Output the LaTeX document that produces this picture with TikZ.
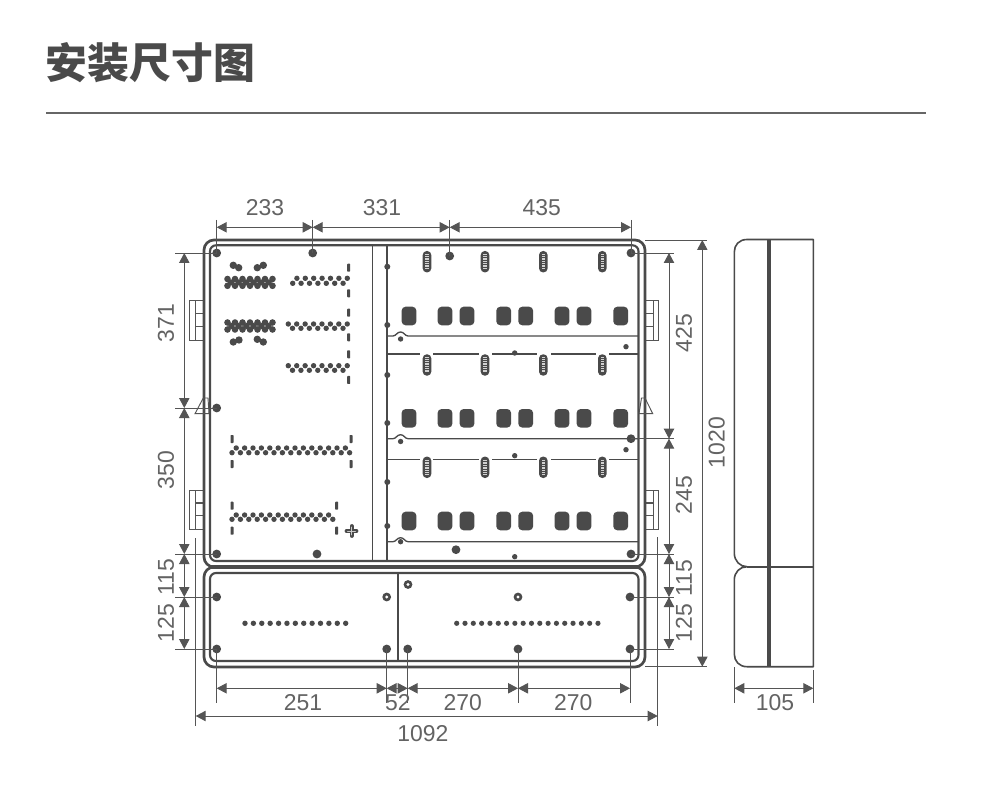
\documentclass[tikz,border=0pt]{standalone}
\usepackage{fontspec}
\setmainfont{Liberation Sans}
\newfontfamily\cjk{Noto Sans CJK SC}
\usetikzlibrary{arrows.meta}
\definecolor{ink}{HTML}{4A4A4A}
\definecolor{dimc}{HTML}{555555}
\definecolor{txtc}{HTML}{636363}
\definecolor{rulec}{HTML}{666666}
\tikzset{
  body/.style={draw=ink,line width=2pt},
  inner wall/.style={draw=ink,line width=1.6pt},
  thinwall/.style={draw=ink,line width=1pt},
  ext/.style={draw=dimc,line width=0.7pt},
  dimline/.style={draw=dimc,line width=0.7pt,{Triangle[length=7.5pt,width=7.8pt]}-{Triangle[length=7.5pt,width=7.8pt]}},
  dimtxt/.style={text=txtc,font=\fontsize{17.2pt}{18pt}\selectfont,inner sep=0pt},
  hinge/.style={draw=dimc,line width=0.7pt},
  lid/.style={draw=ink,line width=1.2pt},
  dotc/.style={fill=ink},
  tick mark/.style={fill=ink,rounded corners=0.5pt},
  square/.style={fill=ink,rounded corners=3pt},
}
\newcommand\zigzag[5]{\foreach \i in {0,...,#3}{%
  \pgfmathsetmacro\xx{#1+\i*#2}\pgfmathsetmacro\yy{mod(\i,2)==0 ? #4 : #5}%
  \fill[dotc] (\xx,\yy) circle (2.7);}}
\newcommand\dotrow[5]{\foreach \i in {0,...,#3}{%
  \pgfmathsetmacro\xx{#1+\i*#2}\fill[dotc] (\xx,#4) circle (#5);}}
\newcommand\vtick[2]{\fill[tick mark] (#1-1.5,#2-4) rectangle (#1+1.5,#2+4);}
\newcommand\slot[2]{%
  \fill[ink,rounded corners=3pt] (#1-4.3,#2-10.7) rectangle (#1+4.3,#2+10.7);
  \draw[white!75!ink,line width=2.4pt,dash pattern=on 0.7pt off 0.6pt] (#1,#2-7.5) -- (#1,#2+7.5);}
\newcommand\hole[3]{\coordinate (#1) at (#2,#3); \fill[dotc] (#2,#3) circle (4.4);}
\newcommand\ring[3]{\coordinate (#1) at (#2,#3); \fill[dotc] (#2,#3) circle (4.4); \fill[white] (#2,#3) circle (1.6);}
\newcommand\block[2]{%
  \dotrow{227.5}{7.5}{6}{#1}{3.3}
  \dotrow{231.2}{7.5}{5}{#2}{3.1}
  \dotrow{227.5}{7.5}{6}{#2*2-#1}{3.3}}
\begin{document}
\begin{tikzpicture}[x=0.75pt,y=-0.75pt]
\useasboundingbox (0,0) rectangle (1000,802);
\fill[white] (0,0) rectangle (1000,802);

% title
\node[anchor=west,inner sep=0pt,text=ink] (title) at (45.5,63) {\fontsize{31.4pt}{34pt}\selectfont\cjk\bfseries 安装尺寸图};
\coordinate (ruleL) at (46,113); \coordinate (ruleR) at (926,113);
\draw[rulec,line width=1pt] (ruleL) -- (ruleR);

% hinges
\foreach \y in {300.7,490}{
  \draw[hinge] (203.5,\y) -- (189.3,\y) -- (189.3,\y+39.5) -- (203.5,\y+39.5);
  \draw[hinge] (195,\y) -- (195,\y+39.5);
  \draw[hinge,line width=1pt] (195,\y+13) -- (203.5,\y+13) (195,\y+25.5) -- (203.5,\y+25.5);
  \draw[hinge] (645,\y) -- (658,\y) -- (658,\y+39.5) -- (645,\y+39.5);
  \draw[hinge] (653,\y) -- (653,\y+39.5);
  \draw[hinge,line width=1pt] (645,\y+13) -- (653,\y+13) (645,\y+25.5) -- (653,\y+25.5);
}

% enclosure
\filldraw[body,fill=white,rounded corners=7.5pt] (204,240) rectangle (645,567);
\filldraw[body,fill=white,rounded corners=7.5pt] (204,567) rectangle (645,667);
\draw[body,line width=2.3pt] (209,567) -- (640,567);
\draw[inner wall,rounded corners=4.5pt] (210,245.3) rectangle (638.5,561);
\draw[inner wall,rounded corners=4.5pt] (210,573) rectangle (638.5,661);
\draw[thinwall] (372.7,245) -- (372.7,561);
\draw[inner wall] (387.3,245) -- (387.3,561);
\draw[inner wall] (398,573) -- (398,661);
% latches
\draw[hinge] (203.3,398) -- (195,413.7) -- (209,413.7) (203.3,398) -- (208,398) -- (209,413.7);
\draw[hinge] (641.5,398) -- (645,398) -- (652.7,413.7) -- (639,413.7) -- cycle;

% rails in the right-hand panel
\foreach \y in {336,438.7,541.7}{
  \draw[thinwall] (387.3,\y) -- (393,\y) .. controls (396,\y) and (397,\y-4) .. (400.6,\y-4)
     .. controls (404,\y-4) and (405,\y) .. (408,\y) -- (638,\y);
}
\foreach \y in {354,459.6}{
  \draw[thinwall] (387.3,\y) -- (420,\y) (433.3,\y) -- (479,\y) (492,\y) -- (537,\y) (551,\y) -- (596,\y) (609,\y) -- (638,\y);
}

% slots and square cut-outs
\foreach \y in {261.7,365,467.3}{
  \foreach \x in {427,485,543.3,602.3}{\slot{\x}{\y}}
}
\foreach \y in {316,418.3,521}{
  \foreach \x in {409,445,467,503.7,525.7,562,584,620.7}{
    \fill[square] (\x-7.4,\y-9.3) rectangle (\x+7.4,\y+9.3);}
}
% small dots on the panel wall and rails
\foreach \y in {266.7,325,375,423,482,526}{\fill[dotc] (387.3,\y) circle (3);}
\foreach \x/\y in {400.6/339,400.6/441.5,400.6/541.7,514.7/353,514.7/455.7,514.7/556.7,626/346.7,626/449.7}{
  \fill[dotc] (\x,\y) circle (2.7);}

% left panel dots
\foreach \x/\y in {233.3/265.3,238.7/267.7,257.3/267.7,263.3/265.3,233.3/342,239/340,257.3/339.3,263.3/342}{
  \fill[dotc] (\x,\y) circle (3.7);}
\block{279}{282.4}
\block{322.5}{326}
\zigzag{292.7}{4.2}{13}{283.3}{278.3}
\zigzag{288.3}{4.21}{14}{324}{328.3}
\zigzag{288.3}{4.21}{14}{365.7}{370.3}
\foreach \y in {267.7,293.3,312.7,337.3,354.3,380}{\vtick{348.7}{\y}}
\zigzag{232}{4.2}{28}{452.7}{448}
\zigzag{232}{4.2}{24}{519.3}{515}
\foreach \x/\y in {232/439,232/464,351/439,351/464,232/505.7,232/530.7,336.7/505.7,336.7/530.7}{\vtick{\x}{\y}}
% cross
\draw[ink,line width=2.8pt,line cap=round] (346.5,531) -- (356.5,531) (351.7,526) -- (351.7,536);
\draw[white!70!ink,line width=0.6pt,line cap=round] (347.5,531) -- (355.5,531) (351.7,527) -- (351.7,535);

% lower dot rows
\dotrow{245}{8.39}{12}{623.3}{2.7}
\dotrow{456.7}{8.31}{17}{623.3}{2.6}

% mounting holes
\hole{a1}{216.7}{253}
\hole{a2}{312.7}{253}
\hole{a3}{449.7}{256}
\hole{a4}{631}{253}
\hole{l2}{216.7}{408}
\hole{l3}{216.7}{554}
\hole{m1}{317}{554}
\hole{m2}{456}{549.7}
\hole{r2}{631}{438.7}
\hole{r3}{631}{554}
\hole{l4}{216.7}{597}
\hole{l5}{216.7}{649}
\ring{c1}{386.7}{597}
\hole{b2}{386.7}{649}
\ring{c2}{408}{584.5}
\hole{b3}{407.7}{649}
\ring{c3}{518}{597}
\hole{b4}{518}{649}
\hole{r4}{630}{597}
\hole{r5}{630}{649}

% top dimensions
\coordinate (ta1) at (216.7,227.3); \coordinate (ta2) at (312.7,227.3);
\coordinate (ta3) at (449.7,227.3); \coordinate (ta4) at (631,227.3);
\draw[ext] (216.7,220) -- (a1);
\draw[ext] (312.7,220) -- (a2);
\draw[ext] (449.7,220) -- (a3);
\draw[ext] (631,220) -- (a4);
\draw[dimline] (ta1) -- (ta2);
\draw[dimline] (ta2) -- (ta3);
\draw[dimline] (ta3) -- (ta4);
\node[dimtxt] (d233) at (265,208) {233};
\node[dimtxt] (d331) at (382,208) {331};
\node[dimtxt] (d435) at (541.7,208) {435};

% left dimensions
\coordinate (la1) at (184.3,253); \coordinate (la2) at (184.3,408);
\coordinate (la3) at (184.3,554); \coordinate (la4) at (184.3,597);
\coordinate (la5) at (184.3,649);
\draw[ext] (175,253) -- (a1);
\draw[ext] (175,408) -- (l2);
\draw[ext] (175,554) -- (l3);
\draw[ext] (175,597) -- (l4);
\draw[ext] (175,649) -- (l5);
\draw[dimline] (la1) -- (la2);
\draw[dimline] (la2) -- (la3);
\draw[dimline] (la3) -- (la4);
\draw[dimline] (la4) -- (la5);
\node[dimtxt,rotate=90] (d371) at (166,323) {371};
\node[dimtxt,rotate=90] (d350) at (166,470) {350};
\node[dimtxt,rotate=90] (d115) at (166,577) {115};
\node[dimtxt,rotate=90] (d125) at (166,623) {125};

% right dimensions
\coordinate (ra1) at (669,253); \coordinate (ra2) at (669,438.7);
\coordinate (ra3) at (669,554); \coordinate (ra4) at (669,597);
\coordinate (ra5) at (669,649);
\draw[ext] (a4) -- (674,253);
\draw[ext] (r2) -- (674,438.7);
\draw[ext] (r3) -- (674,554);
\draw[ext] (r4) -- (674,597);
\draw[ext] (r5) -- (674,649);
\draw[dimline] (ra1) -- (ra2);
\draw[dimline] (ra2) -- (ra3);
\draw[dimline] (ra3) -- (ra4);
\draw[dimline] (ra4) -- (ra5);
\node[dimtxt,rotate=90] (d425) at (684,333) {425};
\node[dimtxt,rotate=90] (d245) at (684,495) {245};
\node[dimtxt,rotate=90] (dr115) at (684,578) {115};
\node[dimtxt,rotate=90] (dr125) at (684,623) {125};

% overall height
\coordinate (ha) at (702.3,240); \coordinate (hb) at (702.3,666.7);
\draw[ext] (645,240) -- (706.7,240);
\draw[ext] (645,666.7) -- (706.7,666.7);
\draw[dimline] (ha) -- (hb);
\node[dimtxt,rotate=90] (d1020) at (716.7,442.7) {1020};

% bottom dimensions
\coordinate (ba1) at (216.7,688.3); \coordinate (ba2) at (386.7,688.3);
\coordinate (ba3) at (407.7,688.3); \coordinate (ba4) at (518,688.3);
\coordinate (ba5) at (630,688.3);
\draw[ext] (l5) -- (216.7,702.5);
\draw[ext] (b2) -- (386.7,702.5);
\draw[ext] (b3) -- (407.7,702.5);
\draw[ext] (b4) -- (518,702.5);
\draw[ext] (r5) -- (630,702.5);
\draw[dimline] (ba1) -- (ba2);
\draw[dimline] (ba2) -- (ba3);
\draw[dimline] (ba3) -- (ba4);
\draw[dimline] (ba4) -- (ba5);
\node[dimtxt] (d251) at (303,702.5) {251};
\node[dimtxt] (d52) at (398,702.5) {52};
\node[dimtxt] (d270a) at (462.7,702.5) {270};
\node[dimtxt] (d270b) at (573.3,702.5) {270};

% overall width
\coordinate (wa) at (195.7,716); \coordinate (wb) at (657.7,716);
\draw[ext] (195.7,538) -- (195.7,726);
\draw[ext] (657.7,537) -- (657.7,726);
\draw[dimline] (wa) -- (wb);
\node[dimtxt] (d1092) at (423,734) {1092};

% side view
\draw[lid,line join=round] (768.7,239.5) -- (747,239.5) .. controls (739,239.5) and (734.3,245) .. (734.3,252)
  -- (734.3,553) .. controls (734.3,561) and (740,566.7) .. (747,566.7)
  .. controls (740,566.7) and (734.3,572) .. (734.3,580)
  -- (734.3,654) .. controls (734.3,661) and (739,666.7) .. (747,666.7)
  -- (813.3,666.7) -- (813.3,239.5) -- (768.7,239.5);
\draw[lid] (747,566.7) -- (813.3,566.7);
\draw[ink,line width=3pt] (768.7,239.5) -- (768.7,666.7);

\coordinate (sa) at (734.3,688.3); \coordinate (sb) at (813.3,688.3);
\draw[ext] (734.3,667) -- (734.3,703);
\draw[ext] (813.3,670) -- (813.3,703);
\draw[dimline] (sa) -- (sb);
\node[dimtxt] (d105) at (775,702.5) {105};
\end{tikzpicture}
\end{document}
